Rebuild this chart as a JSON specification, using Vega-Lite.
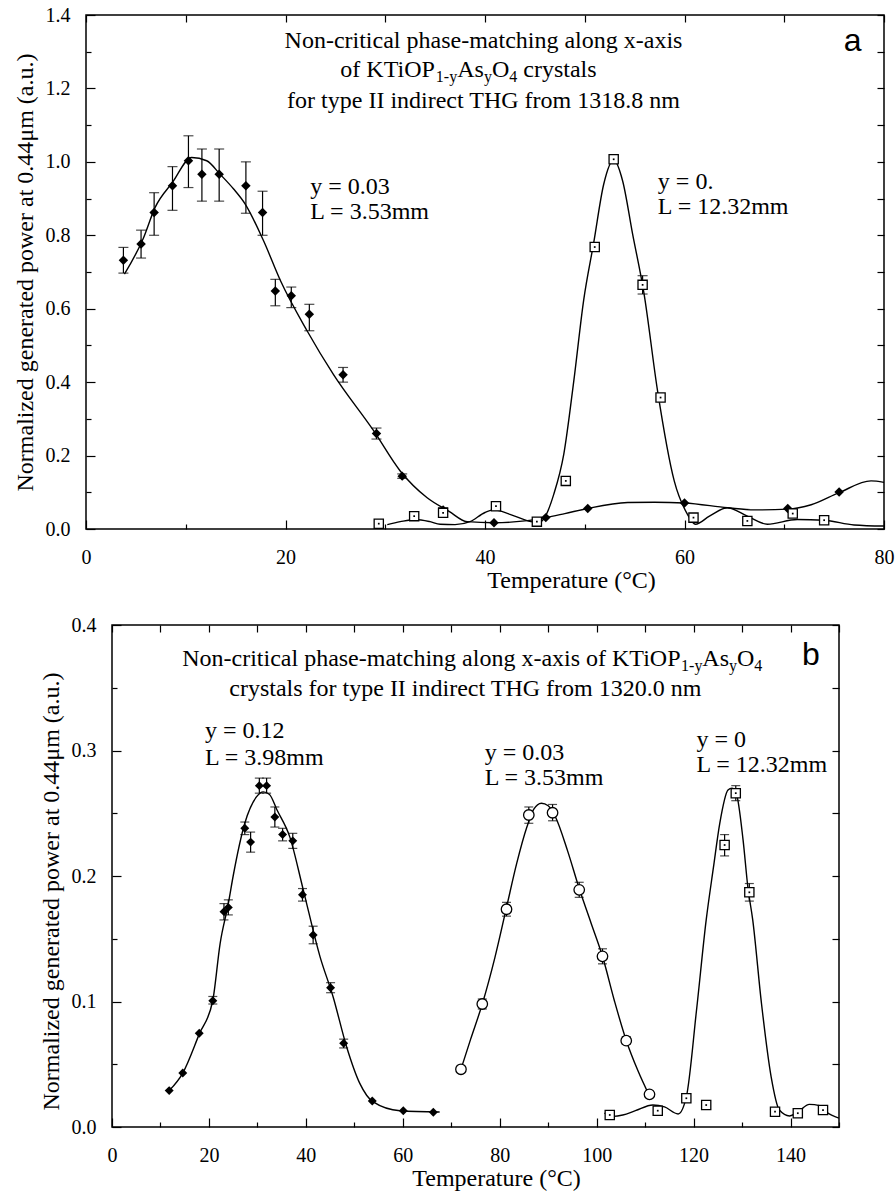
{
"$schema": "https://vega.github.io/schema/vega-lite/v6.json",
"background": "white",
"padding": {"left": 5, "top": 4, "right": 5, "bottom": 2},
"config": {
  "font": "Liberation Serif",
  "view": {"stroke": "black", "strokeWidth": 1.5},
  "style": {"guide-label": {"font": "Liberation Serif", "fontSize": 20, "fill": "black"}, "guide-title": {"font": "Liberation Serif", "fontSize": 24, "fontWeight": "normal", "fill": "black"}},
  "axis": {"grid": false, "domain": false, "labelFont": "Liberation Serif", "titleFont": "Liberation Serif", "labelFontSize": 20, "titleFontSize": 24, "titleFontWeight": "normal", "labelColor": "black", "titleColor": "black", "tickColor": "black", "tickWidth": 1.2, "labelFlush": false, "labelOverlap": false}
},
"datasets": {
  "a_curve": [
    {"s":"d","T":3.85,"v":0.694},{"s":"d","T":5.75,"v":0.792},{"s":"d","T":6.93,"v":0.876},{"s":"d","T":8.67,"v":0.944},{"s":"d","T":10.6,"v":1.012},{"s":"d","T":12.1,"v":1.003},{"s":"d","T":13.45,"v":0.966},{"s":"d","T":14.8,"v":0.926},{"s":"d","T":15.96,"v":0.885},{"s":"d","T":17.8,"v":0.785},{"s":"d","T":19.5,"v":0.676},{"s":"d","T":22.16,"v":0.54},{"s":"d","T":24.8,"v":0.421},{"s":"d","T":28.85,"v":0.267},{"s":"d","T":31.5,"v":0.158},{"s":"d","T":34.2,"v":0.085},{"s":"d","T":36.4,"v":0.048},{"s":"d","T":38.2,"v":0.02},{"s":"d","T":40.9,"v":0.017},{"s":"d","T":44.0,"v":0.022},{"s":"d","T":46.1,"v":0.031},{"s":"d","T":48.0,"v":0.042},{"s":"d","T":50.3,"v":0.056},{"s":"d","T":54.3,"v":0.072},{"s":"d","T":57.0,"v":0.073},{"s":"d","T":60.0,"v":0.071},{"s":"d","T":64.3,"v":0.058},{"s":"d","T":67.0,"v":0.052},{"s":"d","T":70.35,"v":0.054},{"s":"d","T":72.7,"v":0.066},{"s":"d","T":75.5,"v":0.099},{"s":"d","T":78.7,"v":0.131},{"s":"d","T":80.0,"v":0.127},
    {"s":"q","T":30.2,"v":0.012},{"s":"q","T":31.5,"v":0.02},{"s":"q","T":33.0,"v":0.026},{"s":"q","T":34.5,"v":0.02},{"s":"q","T":35.5,"v":0.013},{"s":"q","T":37.0,"v":0.012},{"s":"q","T":38.5,"v":0.02},{"s":"q","T":40.0,"v":0.045},{"s":"q","T":40.9,"v":0.052},{"s":"q","T":42.5,"v":0.04},{"s":"q","T":44.6,"v":0.02},{"s":"q","T":45.4,"v":0.018},{"s":"q","T":45.9,"v":0.028},{"s":"q","T":46.9,"v":0.095},{"s":"q","T":47.9,"v":0.204},{"s":"q","T":48.9,"v":0.403},{"s":"q","T":49.9,"v":0.625},{"s":"q","T":50.9,"v":0.78},{"s":"q","T":51.9,"v":0.939},{"s":"q","T":52.9,"v":1.005},{"s":"q","T":53.8,"v":0.948},{"s":"q","T":54.8,"v":0.803},{"s":"q","T":55.95,"v":0.64},{"s":"q","T":57.3,"v":0.376},{"s":"q","T":58.97,"v":0.131},{"s":"q","T":60.3,"v":0.04},{"s":"q","T":61.1,"v":0.013},{"s":"q","T":62.5,"v":0.035},{"s":"q","T":64.3,"v":0.058},{"s":"q","T":66.3,"v":0.035},{"s":"q","T":68.3,"v":0.013},{"s":"q","T":71.3,"v":0.026},{"s":"q","T":74.0,"v":0.024},{"s":"q","T":77.0,"v":0.011},{"s":"q","T":80.0,"v":0.008}
  ],
  "a_pts": [
    {"s":"d","T":3.75,"v":0.732,"lo":0.697,"hi":0.767},{"s":"d","T":5.52,"v":0.776,"lo":0.738,"hi":0.814},{"s":"d","T":6.83,"v":0.862,"lo":0.8,"hi":0.916},{"s":"d","T":8.67,"v":0.935,"lo":0.868,"hi":0.987},{"s":"d","T":10.27,"v":1.003,"lo":0.93,"hi":1.071},{"s":"d","T":11.62,"v":0.966,"lo":0.893,"hi":1.035},{"s":"d","T":13.35,"v":0.966,"lo":0.893,"hi":1.035},{"s":"d","T":16.03,"v":0.935,"lo":0.86,"hi":1.0},{"s":"d","T":17.7,"v":0.862,"lo":0.8,"hi":0.92},{"s":"d","T":18.98,"v":0.648,"lo":0.608,"hi":0.68},{"s":"d","T":20.58,"v":0.635,"lo":0.603,"hi":0.659},{"s":"d","T":22.39,"v":0.585,"lo":0.54,"hi":0.612},{"s":"d","T":25.77,"v":0.42,"lo":0.4,"hi":0.44},{"s":"d","T":29.12,"v":0.26,"lo":0.245,"hi":0.275},{"s":"d","T":31.7,"v":0.144,"lo":0.138,"hi":0.15},{"s":"d","T":35.8,"v":0.052,"lo":0.046,"hi":0.058},{"s":"d","T":40.9,"v":0.017},{"s":"d","T":46.1,"v":0.031},{"s":"d","T":50.3,"v":0.056},{"s":"d","T":60.0,"v":0.071},{"s":"d","T":70.35,"v":0.056},{"s":"d","T":75.5,"v":0.101},
    {"s":"q","T":29.35,"v":0.0145},{"s":"q","T":32.9,"v":0.035},{"s":"q","T":35.8,"v":0.044},{"s":"q","T":41.1,"v":0.062,"lo":0.055,"hi":0.07},{"s":"q","T":45.2,"v":0.02},{"s":"q","T":48.1,"v":0.131},{"s":"q","T":51.0,"v":0.768},{"s":"q","T":52.9,"v":1.007},{"s":"q","T":55.8,"v":0.665,"lo":0.64,"hi":0.69},{"s":"q","T":57.6,"v":0.358},{"s":"q","T":60.9,"v":0.031},{"s":"q","T":66.3,"v":0.022},{"s":"q","T":70.85,"v":0.042},{"s":"q","T":74.0,"v":0.024}
  ],
  "a_txt": [
    {"k":"c","T":39.85,"v":1.311,"t":"Non-critical phase-matching along x-axis"},
    {"k":"c","T":39.85,"v":1.147,"t":"for type II indirect THG from 1318.8 nm"},
    {"k":"l","T":25.5,"v":1.232,"t":"of KTiOP"},
    {"k":"l","T":37.21,"v":1.232,"t":"As"},
    {"k":"l","T":40.69,"v":1.232,"t":"O"},
    {"k":"l","T":43.84,"v":1.232,"t":"crystals"},
    {"k":"s","T":35.07,"v":1.218,"t":"1-y"},
    {"k":"s","T":39.89,"v":1.218,"t":"y"},
    {"k":"s","T":42.43,"v":1.218,"t":"4"},
    {"k":"l","T":22.49,"v":0.913,"t":"y = 0.03"},
    {"k":"l","T":22.49,"v":0.845,"t":"L = 3.53mm"},
    {"k":"l","T":57.33,"v":0.926,"t":"y =  0."},
    {"k":"l","T":57.33,"v":0.858,"t":"L = 12.32mm"},
    {"k":"p","T":76.86,"v":1.302,"t":"a"}
  ],
  "b_curve": [
    {"s":"d","T":11.8,"v":0.029},{"s":"d","T":14.6,"v":0.043},{"s":"d","T":18.0,"v":0.074},{"s":"d","T":20.8,"v":0.101},{"s":"d","T":22.3,"v":0.146},{"s":"d","T":24.0,"v":0.178},{"s":"d","T":25.0,"v":0.2},{"s":"d","T":27.4,"v":0.242},{"s":"d","T":29.8,"v":0.263},{"s":"d","T":31.2,"v":0.267},{"s":"d","T":32.5,"v":0.265},{"s":"d","T":34.0,"v":0.253},{"s":"d","T":36.7,"v":0.231},{"s":"d","T":39.4,"v":0.19},{"s":"d","T":42.9,"v":0.136},{"s":"d","T":45.6,"v":0.104},{"s":"d","T":48.4,"v":0.064},{"s":"d","T":51.1,"v":0.035},{"s":"d","T":53.9,"v":0.02},{"s":"d","T":59.4,"v":0.013},{"s":"d","T":67.6,"v":0.012},
    {"s":"c","T":72.0,"v":0.046},{"s":"c","T":74.0,"v":0.07},{"s":"c","T":76.4,"v":0.098},{"s":"c","T":79.0,"v":0.135},{"s":"c","T":81.4,"v":0.175},{"s":"c","T":83.5,"v":0.21},{"s":"c","T":85.6,"v":0.239},{"s":"c","T":87.0,"v":0.253},{"s":"c","T":88.6,"v":0.258},{"s":"c","T":90.0,"v":0.256},{"s":"c","T":91.5,"v":0.247},{"s":"c","T":94.0,"v":0.22},{"s":"c","T":96.4,"v":0.19},{"s":"c","T":98.8,"v":0.163},{"s":"c","T":101.2,"v":0.136},{"s":"c","T":103.7,"v":0.1},{"s":"c","T":106.1,"v":0.069},{"s":"c","T":108.5,"v":0.045},{"s":"c","T":110.8,"v":0.0255},
    {"s":"q","T":101.6,"v":0.011},{"s":"q","T":103.5,"v":0.0085},{"s":"q","T":105.4,"v":0.0096},{"s":"q","T":108.0,"v":0.013},{"s":"q","T":111.6,"v":0.0175},{"s":"q","T":114.0,"v":0.016},{"s":"q","T":116.8,"v":0.0104},{"s":"q","T":118.5,"v":0.024},{"s":"q","T":120.6,"v":0.093},{"s":"q","T":122.6,"v":0.165},{"s":"q","T":124.1,"v":0.207},{"s":"q","T":125.4,"v":0.242},{"s":"q","T":127.1,"v":0.2685},{"s":"q","T":127.9,"v":0.27},{"s":"q","T":128.8,"v":0.266},{"s":"q","T":130.2,"v":0.229},{"s":"q","T":131.2,"v":0.191},{"s":"q","T":132.2,"v":0.165},{"s":"q","T":134.0,"v":0.0986},{"s":"q","T":136.0,"v":0.04},{"s":"q","T":137.7,"v":0.0135},{"s":"q","T":139.8,"v":0.0088},{"s":"q","T":141.5,"v":0.012},{"s":"q","T":143.9,"v":0.018},{"s":"q","T":146.0,"v":0.017},{"s":"q","T":147.4,"v":0.012},{"s":"q","T":150.0,"v":0.007}
  ],
  "b_pts": [
    {"s":"d","T":11.8,"v":0.029},{"s":"d","T":14.6,"v":0.043},{"s":"d","T":18.0,"v":0.0747},{"s":"d","T":20.8,"v":0.1006,"lo":0.098,"hi":0.104},{"s":"d","T":23.1,"v":0.1716,"lo":0.165,"hi":0.178},{"s":"d","T":24.0,"v":0.175,"lo":0.169,"hi":0.181},{"s":"d","T":27.4,"v":0.238,"lo":0.233,"hi":0.243},{"s":"d","T":28.6,"v":0.227,"lo":0.219,"hi":0.235},{"s":"d","T":30.4,"v":0.272,"lo":0.266,"hi":0.278},{"s":"d","T":31.9,"v":0.272,"lo":0.266,"hi":0.278},{"s":"d","T":33.6,"v":0.247,"lo":0.239,"hi":0.255},{"s":"d","T":35.2,"v":0.233,"lo":0.228,"hi":0.238},{"s":"d","T":37.3,"v":0.228,"lo":0.222,"hi":0.234},{"s":"d","T":39.3,"v":0.185,"lo":0.18,"hi":0.19},{"s":"d","T":41.5,"v":0.153,"lo":0.146,"hi":0.16},{"s":"d","T":45.1,"v":0.111,"lo":0.107,"hi":0.115},{"s":"d","T":47.8,"v":0.0667,"lo":0.063,"hi":0.07},{"s":"d","T":53.7,"v":0.0207},{"s":"d","T":60.1,"v":0.013},{"s":"d","T":66.3,"v":0.0117},
    {"s":"c","T":72.0,"v":0.046},{"s":"c","T":76.4,"v":0.098,"lo":0.094,"hi":0.102},{"s":"c","T":81.4,"v":0.1735,"lo":0.168,"hi":0.179},{"s":"c","T":86.0,"v":0.2486,"lo":0.242,"hi":0.255},{"s":"c","T":90.9,"v":0.2504,"lo":0.244,"hi":0.257},{"s":"c","T":96.4,"v":0.189,"lo":0.183,"hi":0.195},{"s":"c","T":101.2,"v":0.136,"lo":0.13,"hi":0.142},{"s":"c","T":106.1,"v":0.0688,"lo":0.066,"hi":0.072},{"s":"c","T":110.9,"v":0.026},
    {"s":"q","T":102.7,"v":0.0096},{"s":"q","T":112.6,"v":0.013},{"s":"q","T":118.5,"v":0.0229},{"s":"q","T":122.6,"v":0.0175},{"s":"q","T":126.4,"v":0.2247,"lo":0.216,"hi":0.233},{"s":"q","T":128.7,"v":0.266,"lo":0.26,"hi":0.272},{"s":"q","T":131.5,"v":0.187,"lo":0.18,"hi":0.194},{"s":"q","T":136.8,"v":0.0122},{"s":"q","T":141.5,"v":0.011},{"s":"q","T":146.7,"v":0.0135}
  ],
  "b_txt": [
    {"k":"l","T":14.48,"v":0.3673,"t":"Non-critical phase-matching along x-axis of KTiOP"},
    {"k":"l","T":121.8,"v":0.3673,"t":"As"},
    {"k":"l","T":128.96,"v":0.3673,"t":"O"},
    {"k":"s","T":117.41,"v":0.3633,"t":"1-y"},
    {"k":"s","T":127.31,"v":0.3633,"t":"y"},
    {"k":"s","T":132.53,"v":0.3633,"t":"4"},
    {"k":"c","T":72.9,"v":0.3434,"t":"crystals for type II indirect THG from 1320.0 nm"},
    {"k":"l","T":19.18,"v":0.31,"t":"y = 0.12"},
    {"k":"l","T":19.18,"v":0.2884,"t":"L = 3.98mm"},
    {"k":"l","T":76.9,"v":0.2924,"t":"y = 0.03"},
    {"k":"l","T":76.9,"v":0.2725,"t":"L = 3.53mm"},
    {"k":"l","T":120.6,"v":0.3028,"t":"y = 0"},
    {"k":"l","T":120.6,"v":0.2829,"t":"L = 12.32mm"},
    {"k":"p","T":144.2,"v":0.368,"t":"b"}
  ]
},
"spacing": 21,
"vconcat": [
 {"spacing": 0, "hconcat": [
  {"width": 7, "height": 1, "view": {"stroke": null}, "data": {"values": []}, "mark": "point", "encoding": {}},
  {"width": 798, "height": 514,
   "resolve": {"axis": {"x": "independent", "y": "independent"}},
   "layer": [
    {"data": {"name": "a_curve"}, "mark": {"type": "line", "color": "black", "strokeWidth": 1.4, "interpolate": "monotone", "clip": true},
     "encoding": {
      "x": {"field": "T", "type": "quantitative", "scale": {"domain": [0, 80], "nice": false, "zero": false},
            "axis": {"orient": "bottom", "values": [0, 20, 40, 60, 80], "format": "d", "tickSize": -9, "labelPadding": 27, "labelFont": "Liberation Serif", "titleFont": "Liberation Serif", "title": "Temperature (°C)", "titleX": 485, "titlePadding": 1}},
      "y": {"field": "v", "type": "quantitative", "scale": {"domain": [0, 1.4], "nice": false, "zero": false},
            "axis": {"orient": "left", "values": [0, 0.2, 0.4, 0.6, 0.8, 1.0, 1.2, 1.4], "format": ".1f", "tickSize": -9, "labelPadding": 25, "labelFont": "Liberation Serif", "titleFont": "Liberation Serif", "title": "Normalized generated power at 0.44μm (a.u.)", "titlePadding": 8}},
      "detail": {"field": "s"}}},
    {"data": {"name": "a_pts"}, "transform": [{"filter": "isValid(datum.lo)"}], "mark": {"type": "rule", "color": "black", "strokeWidth": 1.2},
     "encoding": {
      "x": {"field": "T", "type": "quantitative", "scale": {"domain": [0, 80], "nice": false, "zero": false},
            "axis": {"orient": "top", "values": [0, 10, 20, 30, 40, 50, 60, 70, 80], "labels": false, "tickSize": -7, "title": null}},
      "y": {"field": "lo", "type": "quantitative", "scale": {"domain": [0, 1.4], "nice": false, "zero": false},
            "axis": {"orient": "right", "values": [0, 0.1, 0.2, 0.3, 0.4, 0.5, 0.6, 0.7, 0.8, 0.9, 1.0, 1.1, 1.2, 1.3, 1.4], "labels": false, "tickSize": -7, "title": null}},
      "y2": {"field": "hi"}}},
    {"data": {"name": "a_pts"}, "transform": [{"filter": "isValid(datum.lo)"}, {"fold": ["lo", "hi"], "as": ["kk", "e"]}], "mark": {"type": "tick", "orient": "horizontal", "color": "black", "size": 10, "thickness": 1.2},
     "encoding": {
      "x": {"field": "T", "type": "quantitative", "scale": {"domain": [0, 80], "nice": false, "zero": false},
            "axis": {"orient": "bottom", "values": [10, 30, 50, 70], "labels": false, "tickSize": -5, "title": null}},
      "y": {"field": "e", "type": "quantitative", "scale": {"domain": [0, 1.4], "nice": false, "zero": false},
            "axis": {"orient": "left", "values": [0.1, 0.3, 0.5, 0.7, 0.9, 1.1, 1.3], "labels": false, "tickSize": -5, "title": null}}}},
    {"data": {"name": "a_pts"}, "transform": [{"filter": "datum.s === 'd'"}], "mark": {"type": "point", "shape": "diamond", "filled": true, "color": "black", "size": 90, "opacity": 1},
     "encoding": {"x": {"field": "T", "type": "quantitative", "axis": null}, "y": {"field": "v", "type": "quantitative", "axis": null}}},
    {"data": {"name": "a_pts"}, "transform": [{"filter": "datum.s === 'q'"}], "mark": {"type": "point", "shape": "square", "filled": true, "fill": "white", "stroke": "black", "strokeWidth": 1.3, "size": 85, "opacity": 1},
     "encoding": {"x": {"field": "T", "type": "quantitative", "axis": null}, "y": {"field": "v", "type": "quantitative", "axis": null}}},
    {"data": {"name": "a_pts"}, "transform": [{"filter": "datum.s === 'q'"}], "mark": {"type": "point", "shape": "square", "filled": true, "color": "black", "size": 3, "opacity": 1},
     "encoding": {"x": {"field": "T", "type": "quantitative", "axis": null}, "y": {"field": "v", "type": "quantitative", "axis": null}}},
    {"data": {"name": "a_txt"}, "transform": [{"filter": "datum.k === 'c'"}], "mark": {"type": "text", "align": "center", "baseline": "alphabetic", "font": "Liberation Serif", "fontSize": 24, "color": "black"},
     "encoding": {"x": {"field": "T", "type": "quantitative", "axis": null}, "y": {"field": "v", "type": "quantitative", "axis": null}, "text": {"field": "t"}}},
    {"data": {"name": "a_txt"}, "transform": [{"filter": "datum.k === 'l'"}], "mark": {"type": "text", "align": "left", "baseline": "alphabetic", "font": "Liberation Serif", "fontSize": 24, "color": "black"},
     "encoding": {"x": {"field": "T", "type": "quantitative", "axis": null}, "y": {"field": "v", "type": "quantitative", "axis": null}, "text": {"field": "t"}}},
    {"data": {"name": "a_txt"}, "transform": [{"filter": "datum.k === 's'"}], "mark": {"type": "text", "align": "left", "baseline": "alphabetic", "font": "Liberation Serif", "fontSize": 16, "color": "black"},
     "encoding": {"x": {"field": "T", "type": "quantitative", "axis": null}, "y": {"field": "v", "type": "quantitative", "axis": null}, "text": {"field": "t"}}},
    {"data": {"name": "a_txt"}, "transform": [{"filter": "datum.k === 'p'"}], "mark": {"type": "text", "align": "center", "baseline": "alphabetic", "font": "Liberation Sans", "fontSize": 32, "color": "black"},
     "encoding": {"x": {"field": "T", "type": "quantitative", "axis": null}, "y": {"field": "v", "type": "quantitative", "axis": null}, "text": {"field": "t"}}}
   ]}
 ]},
 {"spacing": 0, "hconcat": [
  {"width": 33, "height": 1, "view": {"stroke": null}, "data": {"values": []}, "mark": "point", "encoding": {}},
  {"width": 727, "height": 502,
   "resolve": {"axis": {"x": "independent", "y": "independent"}},
   "layer": [
    {"data": {"name": "b_curve"}, "mark": {"type": "line", "color": "black", "strokeWidth": 1.4, "interpolate": "monotone", "clip": true},
     "encoding": {
      "x": {"field": "T", "type": "quantitative", "scale": {"domain": [0, 150], "nice": false, "zero": false},
            "axis": {"orient": "bottom", "values": [0, 20, 40, 60, 80, 100, 120, 140], "format": "d", "tickSize": -9, "labelPadding": 27, "labelFont": "Liberation Serif", "titleFont": "Liberation Serif", "title": "Temperature (°C)", "titleX": 384, "titlePadding": 1}},
      "y": {"field": "v", "type": "quantitative", "scale": {"domain": [0, 0.4], "nice": false, "zero": false},
            "axis": {"orient": "left", "values": [0, 0.1, 0.2, 0.3, 0.4], "format": ".1f", "tickSize": -9, "labelPadding": 25, "labelFont": "Liberation Serif", "titleFont": "Liberation Serif", "title": "Normalized generated power at 0.44μm (a.u.)", "titlePadding": 8, "titleY": 266}},
      "detail": {"field": "s"}}},
    {"data": {"name": "b_pts"}, "transform": [{"filter": "isValid(datum.lo)"}], "mark": {"type": "rule", "color": "black", "strokeWidth": 1.2},
     "encoding": {
      "x": {"field": "T", "type": "quantitative", "scale": {"domain": [0, 150], "nice": false, "zero": false},
            "axis": {"orient": "top", "values": [0, 10, 20, 30, 40, 50, 60, 70, 80, 90, 100, 110, 120, 130, 140, 150], "labels": false, "tickSize": -7, "title": null}},
      "y": {"field": "lo", "type": "quantitative", "scale": {"domain": [0, 0.4], "nice": false, "zero": false},
            "axis": {"orient": "right", "values": [0, 0.05, 0.1, 0.15, 0.2, 0.25, 0.3, 0.35, 0.4], "labels": false, "tickSize": -7, "title": null}},
      "y2": {"field": "hi"}}},
    {"data": {"name": "b_pts"}, "transform": [{"filter": "isValid(datum.lo)"}, {"fold": ["lo", "hi"], "as": ["kk", "e"]}], "mark": {"type": "tick", "orient": "horizontal", "color": "black", "size": 9, "thickness": 1.2},
     "encoding": {
      "x": {"field": "T", "type": "quantitative", "scale": {"domain": [0, 150], "nice": false, "zero": false},
            "axis": {"orient": "bottom", "values": [10, 30, 50, 70, 90, 110, 130, 150], "labels": false, "tickSize": -5, "title": null}},
      "y": {"field": "e", "type": "quantitative", "scale": {"domain": [0, 0.4], "nice": false, "zero": false},
            "axis": {"orient": "left", "values": [0.05, 0.15, 0.25, 0.35], "labels": false, "tickSize": -5, "title": null}}}},
    {"data": {"name": "b_pts"}, "transform": [{"filter": "datum.s === 'd'"}], "mark": {"type": "point", "shape": "diamond", "filled": true, "color": "black", "size": 80, "opacity": 1},
     "encoding": {"x": {"field": "T", "type": "quantitative", "axis": null}, "y": {"field": "v", "type": "quantitative", "axis": null}}},
    {"data": {"name": "b_pts"}, "transform": [{"filter": "datum.s === 'c'"}], "mark": {"type": "point", "shape": "circle", "filled": true, "fill": "white", "stroke": "black", "strokeWidth": 1.3, "size": 110, "opacity": 1},
     "encoding": {"x": {"field": "T", "type": "quantitative", "axis": null}, "y": {"field": "v", "type": "quantitative", "axis": null}}},
    {"data": {"name": "b_pts"}, "transform": [{"filter": "datum.s === 'q'"}], "mark": {"type": "point", "shape": "square", "filled": true, "fill": "white", "stroke": "black", "strokeWidth": 1.3, "size": 85, "opacity": 1},
     "encoding": {"x": {"field": "T", "type": "quantitative", "axis": null}, "y": {"field": "v", "type": "quantitative", "axis": null}}},
    {"data": {"name": "b_pts"}, "transform": [{"filter": "datum.s === 'q'"}], "mark": {"type": "point", "shape": "square", "filled": true, "color": "black", "size": 3, "opacity": 1},
     "encoding": {"x": {"field": "T", "type": "quantitative", "axis": null}, "y": {"field": "v", "type": "quantitative", "axis": null}}},
    {"data": {"name": "b_txt"}, "transform": [{"filter": "datum.k === 'c'"}], "mark": {"type": "text", "align": "center", "baseline": "alphabetic", "font": "Liberation Serif", "fontSize": 24, "color": "black"},
     "encoding": {"x": {"field": "T", "type": "quantitative", "axis": null}, "y": {"field": "v", "type": "quantitative", "axis": null}, "text": {"field": "t"}}},
    {"data": {"name": "b_txt"}, "transform": [{"filter": "datum.k === 'l'"}], "mark": {"type": "text", "align": "left", "baseline": "alphabetic", "font": "Liberation Serif", "fontSize": 24, "color": "black"},
     "encoding": {"x": {"field": "T", "type": "quantitative", "axis": null}, "y": {"field": "v", "type": "quantitative", "axis": null}, "text": {"field": "t"}}},
    {"data": {"name": "b_txt"}, "transform": [{"filter": "datum.k === 's'"}], "mark": {"type": "text", "align": "left", "baseline": "alphabetic", "font": "Liberation Serif", "fontSize": 16, "color": "black"},
     "encoding": {"x": {"field": "T", "type": "quantitative", "axis": null}, "y": {"field": "v", "type": "quantitative", "axis": null}, "text": {"field": "t"}}},
    {"data": {"name": "b_txt"}, "transform": [{"filter": "datum.k === 'p'"}], "mark": {"type": "text", "align": "center", "baseline": "alphabetic", "font": "Liberation Sans", "fontSize": 32, "color": "black"},
     "encoding": {"x": {"field": "T", "type": "quantitative", "axis": null}, "y": {"field": "v", "type": "quantitative", "axis": null}, "text": {"field": "t"}}}
   ]}
 ]}
]
}
